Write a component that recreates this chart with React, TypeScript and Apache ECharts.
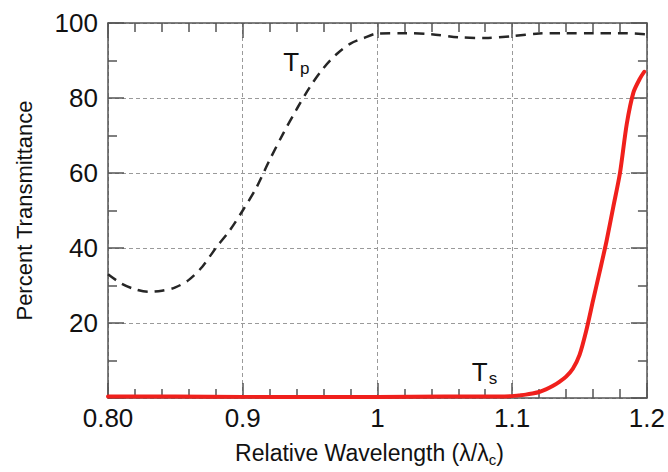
import React, { useEffect, useRef } from "react";
import * as echarts from "echarts";

// Relative wavelength (λ/λc) sample points and transmittance (%) for each polarization
const tpWavelength = [
  0.8, 0.81, 0.82, 0.83, 0.84, 0.85, 0.86, 0.87, 0.88, 0.89, 0.9, 0.91, 0.92, 0.93,
  0.94, 0.95, 0.96, 0.97, 0.98, 0.99, 1.0, 1.02, 1.04, 1.06, 1.08, 1.1, 1.12, 1.14,
  1.16, 1.18, 1.2,
];
const tpValues = [
  33, 30.5, 29, 28.3, 28.6, 29.5, 31.5, 35, 40, 44.5, 50, 56, 63.5, 70.5, 77, 83,
  88, 91.8, 94.5, 96, 97.2, 97.3, 97, 96.2, 96, 96.5, 97.2, 97.3, 97.3, 97.3, 97,
];

const tsWavelength = [
  0.8, 0.85, 0.9, 0.95, 1.0, 1.05, 1.08, 1.1, 1.105, 1.11, 1.115, 1.12, 1.125, 1.13,
  1.135, 1.14, 1.145, 1.15, 1.155, 1.16, 1.165, 1.17, 1.175, 1.18, 1.185, 1.19,
  1.195, 1.198,
];
const tsValues = [
  0.4, 0.4, 0.3, 0.3, 0.3, 0.4, 0.4, 0.5, 0.7, 0.9, 1.2, 1.6, 2.3, 3.2, 4.3, 5.7,
  7.8, 11.5, 18, 26, 33.8, 41.8, 50.9, 60, 73, 81.5, 85.3, 87,
];

const xTickLabels = ["0.80", "0.9", "1", "1.1", "1.2"];
const yTickLabels = ["", "20", "40", "60", "80", "100"];

const xTitle = ["Relative Wavelength (λ/λ", "c", ")"];
const yTitle = "Percent Transmittance";

// Curve labels anchored in data coordinates: [wavelength, transmittance]
const tpLabelAt = [0.93, 89.6];
const tsLabelAt = [1.07, 6.9];

const FONT = "'Liberation Sans', Arial, Helvetica, sans-serif";
const AXIS_COLOR = "#555";

export default function App() {
  const ref = useRef<HTMLDivElement>(null);

  useEffect(() => {
    if (!ref.current) return;
    const chart = echarts.init(ref.current, undefined, { renderer: "svg" });

    const tickStyle = { color: AXIS_COLOR, width: 1.5 };
    const baseX = {
      type: "value" as const,
      min: 0.8,
      max: 1.2,
      interval: 0.1,
      axisLine: { show: true, onZero: false, lineStyle: tickStyle },
      axisTick: { show: true, inside: true, length: 15, lineStyle: tickStyle },
      minorTick: { show: true, splitNumber: 5, length: 9, lineStyle: tickStyle },
    };
    const baseY = {
      type: "value" as const,
      min: 0,
      max: 100,
      interval: 20,
      axisLine: { show: true, onZero: false, lineStyle: tickStyle },
      axisTick: { show: true, inside: true, length: 16, lineStyle: tickStyle },
      minorTick: { show: true, splitNumber: 2, length: 9, lineStyle: tickStyle },
    };
    const gridLine = {
      show: true,
      lineStyle: { color: "#9a9a9a", width: 1, type: [4, 3] as number[] },
    };

    chart.setOption({
      animation: false,
      backgroundColor: "#fff",
      grid: { left: 108, right: 16, top: 23, bottom: 74, containLabel: false },
      xAxis: [
        {
          ...baseX,
          position: "bottom",
          splitLine: gridLine,
          axisLabel: {
            fontFamily: FONT,
            fontSize: 26,
            color: "#111",
            margin: 7,
            formatter: (_v: number, i: number) => xTickLabels[i] ?? "",
          },
        },
        {
          ...baseX,
          position: "top",
          splitLine: { show: false },
          axisLabel: { show: false },
        },
      ],
      yAxis: [
        {
          ...baseY,
          position: "left",
          splitLine: gridLine,
          axisLabel: {
            fontFamily: FONT,
            fontSize: 26,
            color: "#111",
            margin: 10,
            formatter: (_v: number, i: number) => yTickLabels[i] ?? "",
          },
        },
        {
          ...baseY,
          position: "right",
          splitLine: { show: false },
          axisLabel: { show: false },
        },
      ],
      series: [
        {
          name: "Tp",
          type: "line",
          xAxisIndex: 0,
          yAxisIndex: 0,
          data: tpWavelength.map((w, i) => [w, tpValues[i]]),
          showSymbol: false,
          smooth: 0.3,
          lineStyle: { color: "#262626", width: 2.5, type: [10, 7] },
          z: 3,
        },
        {
          name: "Ts",
          type: "line",
          xAxisIndex: 0,
          yAxisIndex: 0,
          data: tsWavelength.map((w, i) => [w, tsValues[i]]),
          showSymbol: false,
          smooth: 0.25,
          lineStyle: { color: "#f0201c", width: 4, cap: "round", join: "round" },
          z: 4,
        },
      ],
    });

    const tp = chart.convertToPixel({ gridIndex: 0 }, tpLabelAt) as number[];
    const ts = chart.convertToPixel({ gridIndex: 0 }, tsLabelAt) as number[];
    const plotLeft = chart.convertToPixel({ gridIndex: 0 }, [0.8, 0]) as number[];
    const plotRight = chart.convertToPixel({ gridIndex: 0 }, [1.2, 100]) as number[];

    const subRich = {
      t: { fontFamily: FONT, fontSize: 26, lineHeight: 30, fill: "#111" },
      s: { fontFamily: FONT, fontSize: 17, lineHeight: 17, padding: [13, 0, 0, 1], fill: "#111" },
    };

    chart.setOption({
      graphic: [
        {
          type: "text",
          x: tp[0],
          y: tp[1],
          z: 10,
          style: {
            text: "{t|T}{s|p}",
            rich: subRich,
            align: "left",
            verticalAlign: "middle",
          },
        },
        {
          type: "text",
          x: ts[0],
          y: ts[1],
          z: 10,
          style: {
            text: "{t|T}{s|s}",
            rich: subRich,
            align: "left",
            verticalAlign: "middle",
          },
        },
        {
          type: "text",
          x: (plotLeft[0] + plotRight[0]) / 2 - 8,
          y: 453,
          style: {
            text: `{a|${xTitle[0]}}{b|${xTitle[1]}}{a|${xTitle[2]}}`,
            rich: {
              a: { fontFamily: FONT, fontSize: 23, lineHeight: 28, fill: "#111" },
              b: { fontFamily: FONT, fontSize: 15, lineHeight: 15, padding: [13, 0, 0, 0], fill: "#111" },
            },
            align: "center",
            verticalAlign: "middle",
          },
        },
        {
          type: "text",
          x: 24,
          y: (plotLeft[1] + plotRight[1]) / 2,
          rotation: Math.PI / 2,
          style: {
            text: yTitle,
            fontFamily: FONT,
            fontSize: 22,
            fill: "#111",
            align: "center",
            verticalAlign: "middle",
          },
        },
      ],
    });

    return () => chart.dispose();
  }, []);

  return (
    <div
      ref={ref}
      style={{ position: "fixed", left: 0, top: 0, width: 668, height: 472 }}
    />
  );
}
